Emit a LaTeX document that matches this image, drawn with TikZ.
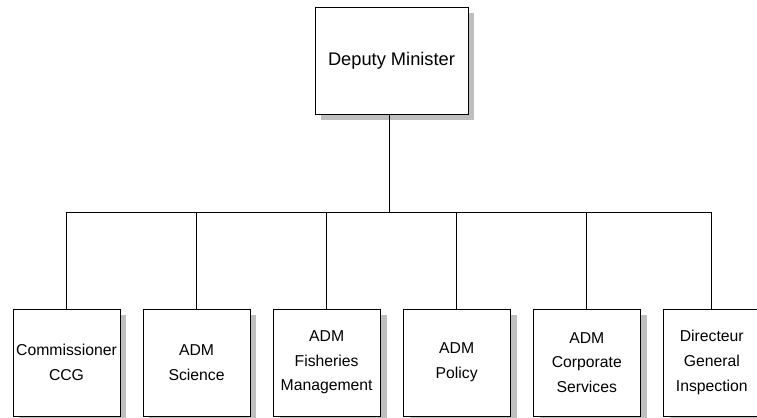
\documentclass[tikz,border=0pt]{standalone}
\usepackage{fontspec}
\setmainfont{Liberation Sans}
\usepackage{tikz}
\usetikzlibrary{positioning, shadows}

\begin{document}
\begin{tikzpicture}[
      x=0.025cm, y=-0.025cm,
      unit/.style={draw, fill=white, line width=0.6pt, inner sep=1pt, align=center,
        minimum width=2.675cm, minimum height=2.675cm,
        drop shadow={shadow xshift=0.16cm, shadow yshift=-0.15cm, fill=black!25, opacity=1},
        font=\fontsize{11.2}{17.5}\selectfont},
      head/.style={unit, minimum width=3.825cm, font=\fontsize{13}{15}\selectfont},
      link/.style={line width=0.6pt}
    ]
    \useasboundingbox (0,0) rectangle (757,417);

    \node[head] (dm) at (391.5,60.5) {Deputy Minister};
    \coordinate (bus) at ([xshift=-0.05cm, yshift=-2.45cm]dm.south);

    \node[unit] (ccg) at (66.5,362.5) {Commissioner\\CCG};
    \node[unit, right=0.555cm of ccg] (sci) {ADM\\Science};
    \node[unit, right=0.555cm of sci] (fish) {ADM\\Fisheries\\Management};
    \node[unit, right=0.555cm of fish] (pol) {ADM\\Policy};
    \node[unit, right=0.555cm of pol] (corp) {ADM\\Corporate\\Services};
    \node[unit, right=0.555cm of corp, minimum width=2.42cm] (insp) {Directeur\\General\\Inspection};

    \draw[link] (dm.south -| bus) -- (bus);
    \draw[link] (bus) -| (ccg.north);
    \draw[link] (bus) -| (sci.north);
    \draw[link] (bus) -| (fish.north);
    \draw[link] (bus) -| (pol.north);
    \draw[link] (bus) -| (corp.north);
    \draw[link] (bus) -| (insp.north);
  \end{tikzpicture}
\end{document}
